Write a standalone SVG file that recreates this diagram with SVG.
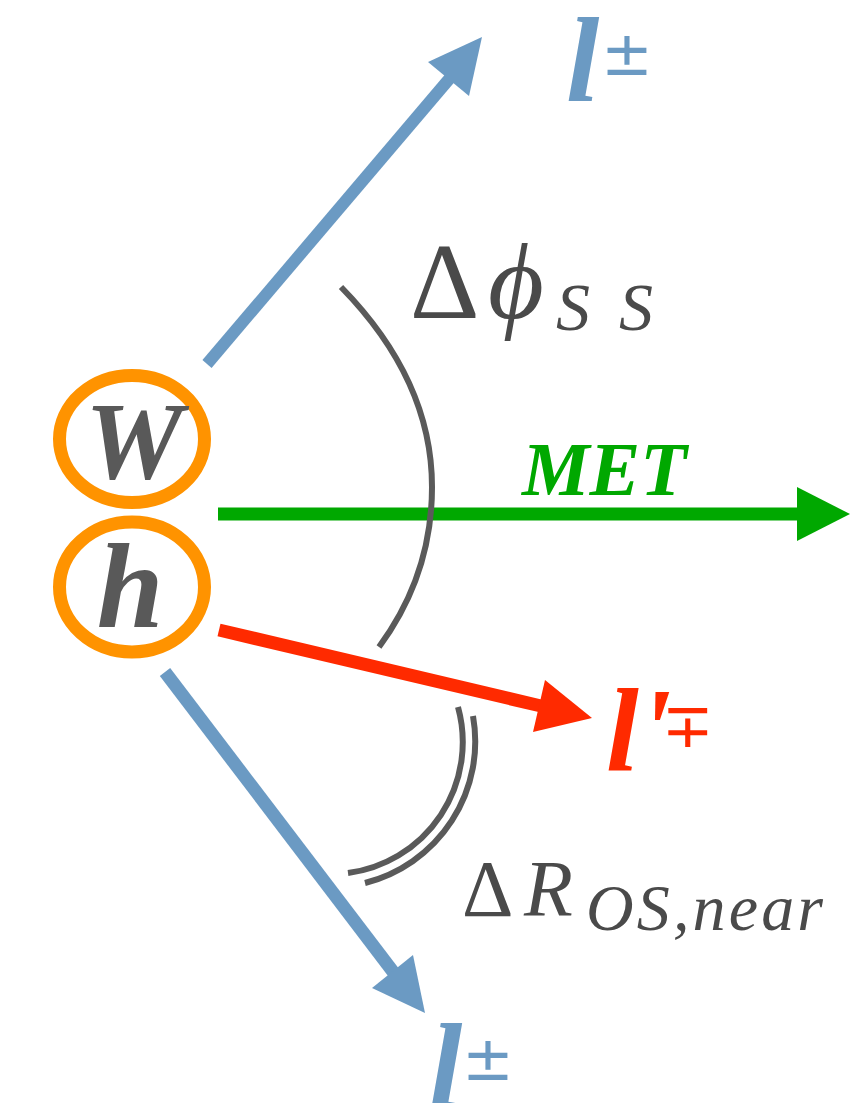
<svg xmlns="http://www.w3.org/2000/svg" width="850" height="1103" viewBox="0 0 850 1103">
<rect width="850" height="1103" fill="#FFFFFF"/>
<g id="connectors" fill="none" stroke-linecap="butt">
  <line x1="207" y1="364" x2="450" y2="78" stroke="#6B9AC3" stroke-width="12"/>
  <polygon points="482,37 428,62 469,96" fill="#6B9AC3"/>
  <line x1="218" y1="514" x2="800" y2="514" stroke="#00A800" stroke-width="13"/>
  <polygon points="797,487 850,514 797,541" fill="#00A800"/>
  <line x1="219" y1="630" x2="541" y2="706" stroke="#FF2A00" stroke-width="13"/>
  <polygon points="592,718 545,680 533,732" fill="#FF2A00"/>
  <line x1="165" y1="672" x2="394" y2="973" stroke="#6B9AC3" stroke-width="13"/>
  <polygon points="425,1013 372,988 413,955" fill="#6B9AC3"/>
</g>
<g id="angle-phi">
  <path d="M341,287 Q432,380 432,487 Q432,575 379,647" fill="none" stroke="#5A5A5A" stroke-width="6"/>
  <text x="410" y="318" font-family="Liberation Serif" font-size="108" fill="#4A4A4A">Δ</text>
  <text x="488" y="318" font-family="Liberation Serif" font-size="108" font-style="italic" fill="#4A4A4A">ϕ</text>
  <text x="556" y="330" font-family="Liberation Serif" font-size="68" font-style="italic" fill="#4A4A4A" textLength="97" lengthAdjust="spacing">SS</text>
</g>
<g id="angle-dR">
  <path d="M458,707 A132,132 0 0 1 348,873" fill="none" stroke="#5A5A5A" stroke-width="6"/>
  <path d="M473,716 A146,146 0 0 1 365,883" fill="none" stroke="#5A5A5A" stroke-width="6"/>
  <text x="462" y="916" font-family="Liberation Serif" font-size="80" fill="#4A4A4A">Δ</text>
  <text x="524" y="916" font-family="Liberation Serif" font-size="80" font-style="italic" fill="#4A4A4A">R</text>
  <text x="586" y="930" font-family="Liberation Serif" font-size="66" font-style="italic" fill="#4A4A4A" textLength="237" lengthAdjust="spacing">OS,near</text>
</g>
<g id="node-W">
  <ellipse cx="132" cy="439" rx="72.5" ry="63.5" fill="#FFFFFF" stroke="#FF9300" stroke-width="13"/>
  <text x="134" y="478" font-family="Liberation Serif" font-style="italic" font-weight="bold" font-size="110" fill="#595959" text-anchor="middle">W</text>
</g>
<g id="node-h">
  <ellipse cx="132" cy="587" rx="72.5" ry="65" fill="#FFFFFF" stroke="#FF9300" stroke-width="13"/>
  <text x="130" y="627" font-family="Liberation Serif" font-style="italic" font-weight="bold" font-size="120" fill="#595959" text-anchor="middle">h</text>
</g>
<g id="label-met">
  <text x="522" y="495" font-family="Liberation Serif" font-style="italic" font-weight="bold" font-size="76" fill="#00A800">MET</text>
</g>
<g id="label-l-top" fill="#6B9AC3">
  <text x="566" y="101" font-family="Liberation Serif" font-style="italic" font-weight="bold" font-size="120">l</text>
  <text x="601" y="75" font-family="DejaVu Sans" font-size="62">±</text>
</g>
<g id="label-l-prime" fill="#FF2A00">
  <text x="606" y="770" font-family="Liberation Serif" font-style="italic" font-weight="bold" font-size="118">l'</text>
  <text x="662" y="747" font-family="DejaVu Sans" font-size="62">∓</text>
</g>
<g id="label-l-bottom" fill="#6B9AC3">
  <text x="429" y="1107" font-family="Liberation Serif" font-style="italic" font-weight="bold" font-size="120">l</text>
  <text x="462" y="1080" font-family="DejaVu Sans" font-size="62">±</text>
</g>
</svg>
